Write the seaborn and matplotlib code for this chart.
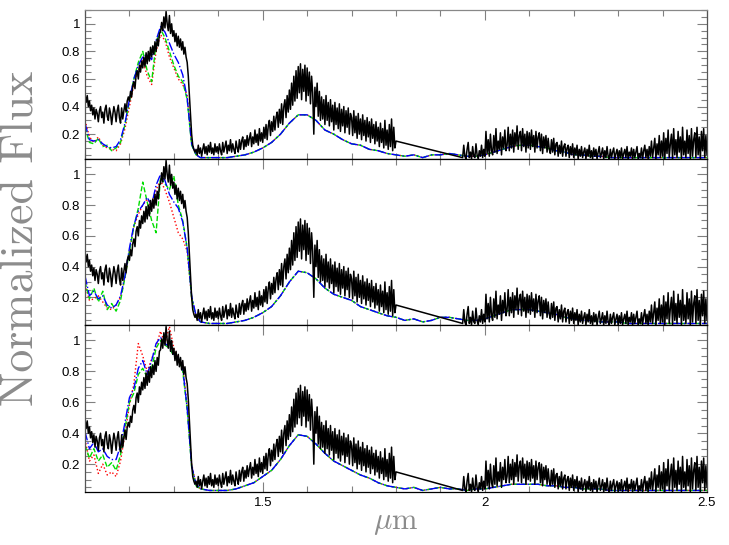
import numpy as np
import matplotlib
matplotlib.use("Agg")
import matplotlib.pyplot as plt
from matplotlib.ticker import MultipleLocator, FuncFormatter
import seaborn as sns

# ── observed spectrum (black), sampled every 0.0025 um, gap 1.80-1.95 um ──
obs_blue_side = [
    0.49, 0.43, 0.48, 0.40, 0.44, 0.37, 0.41, 0.34, 0.39, 0.31, 0.38, 0.35, 0.29, 0.37, 0.40, 0.32, 0.36, 0.28, 0.38, 0.41,
    0.33, 0.30, 0.39, 0.35, 0.27, 0.34, 0.40, 0.36, 0.29, 0.37, 0.41, 0.32, 0.28, 0.39, 0.31, 0.37, 0.42, 0.36, 0.44, 0.47,
    0.44, 0.51, 0.47, 0.55, 0.58, 0.53, 0.63, 0.66, 0.60, 0.70, 0.65, 0.73, 0.68, 0.76, 0.69, 0.79, 0.71, 0.80, 0.73, 0.83,
    0.76, 0.84, 0.78, 0.87, 0.80, 0.89, 0.84, 0.93, 0.94, 1.01, 0.95, 1.05, 0.97, 1.09, 1.00, 0.95, 1.06, 0.93, 1.00, 0.91,
    0.95, 0.87, 0.93, 0.84, 0.91, 0.83, 0.89, 0.81, 0.87, 0.78, 0.83, 0.76, 0.72, 0.62, 0.48, 0.33, 0.20, 0.12, 0.09, 0.07,
    0.09, 0.05, 0.12, 0.06, 0.10, 0.04, 0.09, 0.13, 0.06, 0.11, 0.05, 0.12, 0.07, 0.14, 0.06, 0.10, 0.05, 0.13, 0.07, 0.11,
    0.06, 0.13, 0.08, 0.05, 0.14, 0.07, 0.11, 0.15, 0.06, 0.12, 0.08, 0.16, 0.07, 0.13, 0.09, 0.06, 0.15, 0.10, 0.07, 0.16,
    0.09, 0.15, 0.18, 0.09, 0.16, 0.11, 0.19, 0.12, 0.17, 0.21, 0.11, 0.18, 0.13, 0.23, 0.14, 0.20, 0.12, 0.24, 0.15, 0.21,
    0.14, 0.25, 0.17, 0.27, 0.16, 0.26, 0.30, 0.19, 0.29, 0.22, 0.33, 0.23, 0.32, 0.36, 0.25, 0.38, 0.28, 0.42, 0.27, 0.40,
    0.45, 0.32, 0.48, 0.36, 0.52, 0.38, 0.57, 0.41, 0.62, 0.44, 0.66, 0.46, 0.69, 0.50, 0.71, 0.45, 0.67, 0.51, 0.70, 0.44,
    0.68, 0.48, 0.65, 0.42, 0.62, 0.50, 0.20, 0.54, 0.40, 0.57, 0.33, 0.51, 0.30, 0.47, 0.31, 0.45, 0.27, 0.48, 0.30, 0.43,
    0.26, 0.45, 0.29, 0.41, 0.23, 0.43, 0.27, 0.39, 0.24, 0.42, 0.22, 0.38, 0.26, 0.40, 0.21, 0.37, 0.25, 0.39, 0.20, 0.35,
    0.32, 0.19, 0.37, 0.21, 0.33, 0.17, 0.35, 0.20, 0.31, 0.16, 0.34, 0.19, 0.30, 0.15, 0.32, 0.18, 0.29, 0.14, 0.31, 0.17,
    0.27, 0.13, 0.29, 0.15, 0.25, 0.11, 0.28, 0.14, 0.24, 0.10, 0.30, 0.12, 0.23, 0.09, 0.27, 0.11, 0.31, 0.08, 0.25, 0.10,
    0.15,
]
obs_red_side = [
    0.03, 0.12, 0.04, 0.02, 0.09, 0.14, 0.03, 0.07, 0.02, 0.11, 0.04, 0.03, 0.13, 0.05, 0.02, 0.08, 0.04, 0.12, 0.03, 0.09,
    0.04, 0.22, 0.06, 0.16, 0.04, 0.20, 0.08, 0.05, 0.19, 0.07, 0.24, 0.06, 0.15, 0.09, 0.21, 0.05, 0.18, 0.10, 0.23, 0.08,
    0.12, 0.25, 0.08, 0.20, 0.10, 0.23, 0.07, 0.21, 0.12, 0.26, 0.09, 0.19, 0.22, 0.08, 0.24, 0.11, 0.20, 0.07, 0.22, 0.10,
    0.21, 0.09, 0.23, 0.11, 0.19, 0.07, 0.22, 0.10, 0.18, 0.21, 0.08, 0.20, 0.06, 0.18, 0.10, 0.19, 0.07, 0.17, 0.09, 0.06,
    0.16, 0.07, 0.17, 0.05, 0.13, 0.14, 0.04, 0.12, 0.06, 0.15, 0.04, 0.11, 0.13, 0.04, 0.10, 0.12, 0.03, 0.11, 0.05, 0.13,
    0.03, 0.10, 0.05, 0.12, 0.02, 0.09, 0.04, 0.11, 0.03, 0.07, 0.10, 0.02, 0.09, 0.04, 0.12, 0.03, 0.08, 0.02, 0.10, 0.04,
    0.09, 0.02, 0.07, 0.11, 0.03, 0.06, 0.10, 0.02, 0.08, 0.03, 0.11, 0.04, 0.02, 0.09, 0.03, 0.07, 0.10, 0.02, 0.06, 0.09,
    0.02, 0.08, 0.03, 0.10, 0.02, 0.06, 0.09, 0.03, 0.11, 0.02, 0.07, 0.04, 0.10, 0.02, 0.09, 0.03, 0.07, 0.11, 0.02, 0.06,
    0.03, 0.10, 0.02, 0.08, 0.12, 0.03, 0.09, 0.02, 0.11, 0.04, 0.15, 0.03, 0.10, 0.17, 0.02, 0.13, 0.05, 0.19, 0.03, 0.15,
    0.04, 0.21, 0.02, 0.17, 0.06, 0.23, 0.03, 0.13, 0.20, 0.02, 0.24, 0.05, 0.16, 0.03, 0.22, 0.07, 0.18, 0.02, 0.25, 0.05,
    0.15, 0.03, 0.23, 0.06, 0.19, 0.02, 0.24, 0.04, 0.16, 0.21, 0.03, 0.25, 0.05, 0.18, 0.02, 0.22, 0.08, 0.24, 0.03, 0.19,
    0.05,
]
wave_obs = np.concatenate([np.linspace(1.10, 1.80, len(obs_blue_side)),
                           np.linspace(1.95, 2.50, len(obs_red_side))])
flux_obs = np.array(obs_blue_side + obs_red_side)

# ── model grids: J band sampled at 0.01 um, H+K at 0.02 um ──
wave_mod = np.concatenate([np.linspace(1.10, 1.36, 27),
                           np.linspace(1.38, 2.50, 57)])

# panel 1
top_red_J = [0.30, 0.18, 0.14, 0.18, 0.12, 0.10, 0.09, 0.08, 0.13, 0.24, 0.40, 0.56, 0.66, 0.74,
             0.62, 0.56, 0.80, 0.92, 0.88, 0.76, 0.68, 0.60, 0.56, 0.48, 0.14, 0.05, 0.03]
top_green_J = [0.25, 0.14, 0.13, 0.17, 0.11, 0.12, 0.08, 0.10, 0.14, 0.27, 0.44, 0.60, 0.72, 0.80,
               0.66, 0.58, 0.86, 0.96, 0.90, 0.80, 0.70, 0.62, 0.58, 0.45, 0.12, 0.05, 0.03]
top_blue_J = [0.28, 0.16, 0.15, 0.16, 0.13, 0.11, 0.10, 0.11, 0.16, 0.28, 0.45, 0.60, 0.70, 0.76,
              0.78, 0.74, 0.88, 0.98, 0.94, 0.86, 0.78, 0.72, 0.63, 0.46, 0.13, 0.05, 0.03]
top_HK = [0.03, 0.03, 0.03, 0.04, 0.05, 0.07, 0.10, 0.14, 0.20, 0.28,
          0.34, 0.34, 0.30, 0.23, 0.20, 0.16, 0.13, 0.12, 0.09, 0.08,
          0.06, 0.05, 0.04, 0.05, 0.03, 0.05, 0.05, 0.06, 0.05, 0.04,
          0.04, 0.05, 0.07, 0.09, 0.11, 0.12, 0.12, 0.11, 0.10, 0.08,
          0.07, 0.05, 0.05, 0.04, 0.04, 0.03, 0.03, 0.03, 0.03, 0.03,
          0.03, 0.03, 0.03, 0.03, 0.03, 0.03, 0.03]

# panel 2
mid_red_J = [0.28, 0.18, 0.19, 0.21, 0.17, 0.13, 0.12, 0.15, 0.20, 0.33, 0.50, 0.66, 0.74, 0.80,
             0.84, 0.78, 0.90, 0.96, 0.90, 0.82, 0.72, 0.62, 0.58, 0.50, 0.20, 0.07, 0.04]
mid_green_J = [0.30, 0.19, 0.26, 0.17, 0.24, 0.12, 0.16, 0.11, 0.18, 0.33, 0.50, 0.66, 0.78, 0.95,
               0.82, 0.70, 0.62, 0.98, 0.94, 0.90, 0.99, 0.80, 0.70, 0.52, 0.20, 0.07, 0.04]
mid_blue_J = [0.34, 0.21, 0.24, 0.19, 0.21, 0.15, 0.13, 0.15, 0.21, 0.34, 0.52, 0.67, 0.76, 0.80,
              0.85, 0.80, 0.93, 1.00, 0.96, 0.87, 0.82, 0.78, 0.69, 0.52, 0.21, 0.08, 0.04]
mid_HK = [0.03, 0.03, 0.03, 0.04, 0.05, 0.07, 0.10, 0.14, 0.21, 0.30,
          0.37, 0.36, 0.32, 0.26, 0.22, 0.20, 0.18, 0.14, 0.12, 0.10,
          0.08, 0.07, 0.05, 0.06, 0.04, 0.05, 0.07, 0.07, 0.06, 0.05,
          0.05, 0.06, 0.08, 0.10, 0.12, 0.12, 0.12, 0.11, 0.10, 0.09,
          0.07, 0.06, 0.05, 0.05, 0.04, 0.04, 0.04, 0.03, 0.03, 0.03,
          0.03, 0.03, 0.03, 0.03, 0.03, 0.03, 0.03]

# panel 3
bot_red_J = [0.36, 0.22, 0.26, 0.14, 0.20, 0.13, 0.15, 0.12, 0.22, 0.40, 0.58, 0.72, 0.98, 0.90,
             0.80, 0.88, 0.96, 1.06, 0.98, 1.09, 0.95, 0.88, 0.84, 0.58, 0.20, 0.07, 0.04]
bot_green_J = [0.32, 0.24, 0.30, 0.22, 0.26, 0.18, 0.21, 0.16, 0.26, 0.43, 0.60, 0.66, 0.78, 0.82,
               0.76, 0.82, 0.95, 1.00, 0.97, 0.95, 0.90, 0.88, 0.80, 0.55, 0.18, 0.06, 0.04]
bot_blue_J = [0.41, 0.30, 0.34, 0.28, 0.30, 0.25, 0.23, 0.23, 0.32, 0.47, 0.63, 0.69, 0.82, 0.87,
              0.78, 0.87, 0.98, 1.02, 0.98, 0.96, 0.91, 0.89, 0.82, 0.56, 0.19, 0.07, 0.04]
bot_HK = [0.03, 0.03, 0.03, 0.04, 0.06, 0.08, 0.12, 0.16, 0.23, 0.32,
          0.39, 0.38, 0.33, 0.27, 0.22, 0.19, 0.16, 0.13, 0.11, 0.08,
          0.06, 0.05, 0.04, 0.05, 0.03, 0.04, 0.05, 0.04, 0.04, 0.03,
          0.04, 0.04, 0.05, 0.06, 0.07, 0.07, 0.07, 0.07, 0.06, 0.06,
          0.05, 0.05, 0.04, 0.04, 0.04, 0.03, 0.03, 0.03, 0.03, 0.03,
          0.03, 0.03, 0.03, 0.03, 0.03, 0.03, 0.03]

panels = [
    (top_red_J, top_green_J, top_blue_J, top_HK),
    (mid_red_J, mid_green_J, mid_blue_J, mid_HK),
    (bot_red_J, bot_green_J, bot_blue_J, bot_HK),
]

# ── style ──
sns.set_style("ticks")
plt.rcParams.update({
    "font.family": ["Liberation Sans", "DejaVu Sans"],
    "mathtext.fontset": "cm",
    "xtick.direction": "in",
    "ytick.direction": "in",
    "xtick.color": "#808080",
    "ytick.color": "#808080",
    "xtick.labelcolor": "black",
    "ytick.labelcolor": "black",
})

W, H = 729, 545
fig = plt.figure(figsize=(W / 100, H / 100), dpi=100)

# axes boxes in pixels: (top, bottom)
boxes = [(10, 159), (159, 325), (325, 492)]
left_px, right_px = 85, 707

STYLES = [
    ("#ff0000", ":"),
    ("#00dd00", "--"),
    ("#0000ff", "-."),
]

for i, ((top_px, bot_px), (rJ, gJ, bJ, hk)) in enumerate(zip(boxes, panels)):
    ax = fig.add_axes([left_px / W, 1 - bot_px / H,
                       (right_px - left_px) / W, (bot_px - top_px) / H])
    for jpart, (col, ls) in zip((rJ, gJ, bJ), STYLES):
        sns.lineplot(x=wave_mod, y=np.array(jpart + hk), ax=ax, color=col,
                     linestyle=ls, linewidth=1.0, estimator=None, sort=False)
    sns.lineplot(x=wave_obs, y=flux_obs, ax=ax, color="black",
                 linewidth=1.1, estimator=None, sort=False)

    ax.set_xlim(1.1, 2.5)
    ax.set_ylim(0.02, 1.1)
    ax.xaxis.set_major_locator(MultipleLocator(0.5))
    ax.xaxis.set_minor_locator(MultipleLocator(0.1))
    ax.yaxis.set_major_locator(MultipleLocator(0.2))
    ax.yaxis.set_minor_locator(MultipleLocator(0.05))
    ax.yaxis.set_major_formatter(FuncFormatter(lambda v, p: f"{v:g}"))
    ax.xaxis.set_major_formatter(FuncFormatter(lambda v, p: f"{v:g}"))
    ax.tick_params(which="major", length=7, width=0.8, labelsize=9.5)
    ax.tick_params(which="minor", length=4, width=0.8)
    ax.tick_params(axis="x", which="both", top=True)
    ax.tick_params(axis="y", which="both", right=True)
    ax.set_xlabel("")
    ax.set_ylabel("")
    if i < 2:
        ax.tick_params(axis="x", labelbottom=False)
    for sp in ax.spines.values():
        sp.set_color("#555555")
        sp.set_linewidth(0.9)
    ax.spines["bottom"].set_color("black")
    ax.spines["top"].set_color("black" if i > 0 else "#888888")

fig.text(0.030, 0.563, "Normalized Flux", rotation=90, ha="center", va="center",
         fontsize=33, color="#8c8c8c", family="cmr10")
fig.text(0.543, 0.042, r"$\mu\mathrm{m}$", ha="center", va="center",
         fontsize=22, color="#8c8c8c")

fig.savefig("out.png", dpi=100)
